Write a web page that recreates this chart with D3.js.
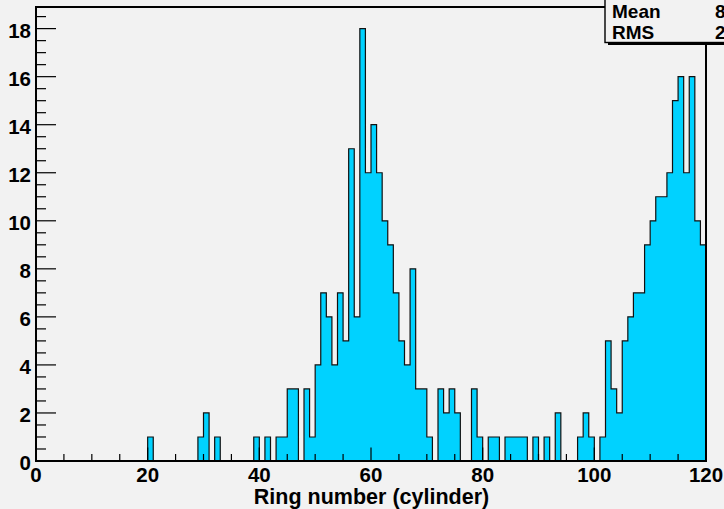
<!DOCTYPE html>
<html>
<head>
<meta charset="utf-8">
<script src="https://cdn.jsdelivr.net/npm/d3@7"></script>
<style>
  body { margin: 0; background: #f2f2f2; }
  svg { display: block; font-family: "Liberation Sans", Arial, sans-serif; font-weight: bold; }
</style>
</head>
<body>
<svg id="svg" width="724" height="509"></svg>
<script>
// bin contents, 120 bins of width 1 from 0 to 120
const counts = [
  0,0,0,0,0,0,0,0,0,0,   // 0-9
  0,0,0,0,0,0,0,0,0,0,   // 10-19
  1,0,0,0,0,0,0,0,0,1,   // 20-29
  2,0,1,0,0,0,0,0,0,1,   // 30-39
  0,1,0,1,1,3,3,0,3,1,   // 40-49
  4,7,6,4,7,5,13,6,18,12, // 50-59
  14,12,10,9,7,5,4,8,3,3, // 60-69
  1,0,3,2,3,2,0,0,3,1,   // 70-79
  0,1,1,0,1,1,1,1,0,1,   // 80-89
  0,1,0,2,0,0,0,1,2,1,   // 90-99
  0,1,5,3,2,5,6,7,7,9,   // 100-109
  10,11,11,12,15,16,12,16,10,9 // 110-119
];
const xTicks = [0, 20, 40, 60, 80, 100, 120];
const yTicks = [0, 2, 4, 6, 8, 10, 12, 14, 16, 18];
const xTitle = "Ring number (cylinder)";

const svg = d3.select("#svg");
const W = 724, H = 509;
svg.append("rect").attr("width", W).attr("height", H).attr("fill", "#f2f2f2");

const fL = 36, fR = 706, fT = 7, fB = 461;
const x = d3.scaleLinear().domain([0, 120]).range([fL, fR]);
const y = d3.scaleLinear().domain([0, 18.9]).range([fB, fT]);

// histogram as a step path
const pts = [[x(0), y(0)]];
counts.forEach((c, i) => {
    pts.push([x(i), y(c)]);
    pts.push([x(i + 1), y(c)]);
});
pts.push([x(counts.length), y(0)]);
const line = d3.line();

svg.append("path")
    .attr("d", line(pts) + "Z")
    .attr("fill", "#00d2ff")
    .attr("stroke", "none");
svg.append("path")
    .attr("d", line(pts))
    .attr("fill", "none")
    .attr("stroke", "#111")
    .attr("stroke-width", 1.2);

// frame
svg.append("rect")
    .attr("x", fL).attr("y", fT)
    .attr("width", fR - fL).attr("height", fB - fT)
    .attr("fill", "none").attr("stroke", "#000").attr("stroke-width", 2);

// x axis ticks
const xMinor = d3.range(0, 121, 5);
svg.append("g").selectAll("line").data(xMinor).join("line")
    .attr("x1", d => x(d)).attr("x2", d => x(d))
    .attr("y1", fB)
    .attr("y2", d => fB - (d % 20 === 0 ? 13.5 : 7))
    .attr("stroke", "#000").attr("stroke-width", 1.2);
svg.append("g").selectAll("text").data(xTicks).join("text")
    .attr("x", d => x(d)).attr("y", 481.5)
    .attr("text-anchor", "middle")
    .attr("font-size", 20.5)
    .text(d => d);

// y axis ticks
const yMinor = d3.range(0, 18.9, 0.5);
svg.append("g").selectAll("line").data(yMinor).join("line")
    .attr("x1", fL)
    .attr("x2", d => fL + (d % 2 === 0 ? 20 : 10))
    .attr("y1", d => y(d)).attr("y2", d => y(d))
    .attr("stroke", "#000").attr("stroke-width", 1.2);
svg.append("g").selectAll("text").data(yTicks).join("text")
    .attr("x", 31).attr("y", d => y(d) + 9)
    .attr("text-anchor", "end")
    .attr("font-size", 20.5)
    .text(d => d);

// axis title
svg.append("text")
    .attr("x", (fL + fR) / 2 + 0.5).attr("y", 504)
    .attr("text-anchor", "middle")
    .attr("font-size", 21.5)
    .text(xTitle);

// stats box
const total = d3.sum(counts);
const mean = d3.sum(counts, (c, i) => c * (i + 0.5)) / total;
const rms = Math.sqrt(d3.sum(counts, (c, i) => c * (i + 0.5 - mean) ** 2) / total);
const box = svg.append("g");
box.append("rect")
    .attr("x", 608).attr("y", 42.5).attr("width", 130).attr("height", 2.5)
    .attr("fill", "#000");
box.append("rect")
    .attr("x", 605).attr("y", -2).attr("width", 130).attr("height", 44.5)
    .attr("fill", "#f2f2f2").attr("stroke", "#000").attr("stroke-width", 1.4);
const rows = [["Mean", mean.toFixed(2)], ["RMS", rms.toFixed(2)]];
box.selectAll("text.k").data(rows).join("text")
    .attr("class", "k")
    .attr("x", 612).attr("y", (d, i) => 18.3 + i * 21)
    .attr("font-size", 19)
    .text(d => d[0]);
box.selectAll("text.v").data(rows).join("text")
    .attr("class", "v")
    .attr("x", 715).attr("y", (d, i) => 18.3 + i * 21)
    .attr("font-size", 19)
    .text(d => d[1]);
</script>
</body>
</html>
